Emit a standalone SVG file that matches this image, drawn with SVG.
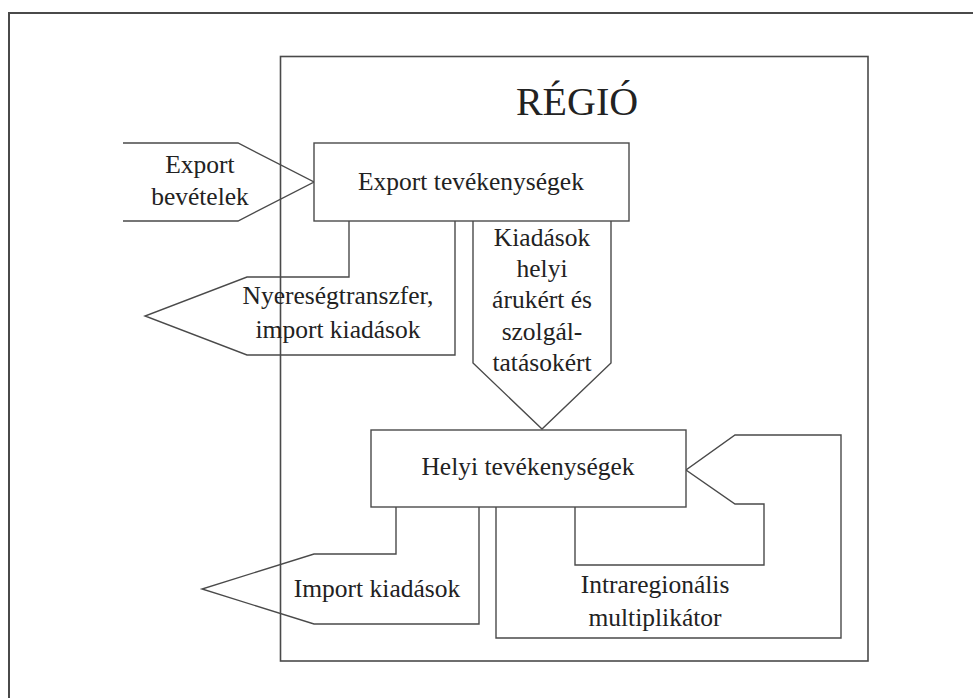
<svg xmlns="http://www.w3.org/2000/svg" width="973" height="698" viewBox="0 0 973 698">
  <style>
    .frame { fill: none; stroke: #4a4a4a; stroke-width: 2; }
    .box { fill: #ffffff; stroke: #4a4a4a; stroke-width: 1.4; }
    .flow { fill: none; stroke: #4a4a4a; stroke-width: 1.4; stroke-linejoin: miter; }
    .lbl { font-family: "Liberation Serif", "DejaVu Serif", serif; font-size: 25.5px; fill: #222222; text-anchor: middle; }
    .title { font-family: "Liberation Serif", "DejaVu Serif", serif; font-size: 40px; fill: #222222; text-anchor: middle; }
  </style>

  <rect x="0" y="0" width="973" height="698" fill="#ffffff"/>
  <!-- outer page frame -->
  <rect class="frame" x="9" y="13" width="1000" height="720"/>

  <!-- region boundary -->
  <g id="regio">
    <rect class="frame" x="280.5" y="56.5" width="587.5" height="604.5" style="stroke-width:1.6"/>
    <text class="title" x="577" y="115">RÉGIÓ</text>
  </g>

  <!-- flows between the activity boxes -->
  <g id="connectors">
    <!-- export revenues entering the region -->
    <g id="export-bevetelek">
      <path class="flow" d="M123,143 H238 L314,182 L238,221 H123"/>
      <text class="lbl" x="200" y="173">Export</text>
      <text class="lbl" x="200" y="205">bevételek</text>
    </g>
    <!-- profit transfer and imports leaving from export activities -->
    <g id="nyereseg">
      <path class="flow" d="M349,221 V277 H247 L145,316 L247,355 H455 V221"/>
      <text class="lbl" x="338" y="304">Nyereségtranszfer,</text>
      <text class="lbl" x="338" y="338">import kiadások</text>
    </g>
    <!-- spending on local goods and services -->
    <g id="kiadasok">
      <path class="flow" d="M473,221 V363 L542,429 L611,363 V221"/>
      <text class="lbl" x="542" y="246">Kiadások</text>
      <text class="lbl" x="542" y="277">helyi</text>
      <text class="lbl" x="542" y="308">árukért és</text>
      <text class="lbl" x="542" y="340">szolgál-</text>
      <text class="lbl" x="542" y="371">tatásokért</text>
    </g>
    <!-- imports leaving from local activities -->
    <g id="import-kiadasok">
      <path class="flow" d="M396,507 V554 H314 L202,589 L314,624 H479 V507"/>
      <text class="lbl" x="377" y="597">Import kiadások</text>
    </g>
    <!-- intraregional multiplier loop -->
    <g id="multiplikator">
      <path class="flow" d="M496,507 V638 H841 V435 H735 L686,470 L735,504 H764 V565 H575 V507"/>
      <text class="lbl" x="655" y="593">Intraregionális</text>
      <text class="lbl" x="655" y="626">multiplikátor</text>
    </g>
  </g>

  <!-- activity boxes -->
  <g id="export-tevekenysegek">
    <rect class="box" x="314" y="143" width="315" height="78"/>
    <text class="lbl" x="471" y="190">Export tevékenységek</text>
  </g>
  <g id="helyi-tevekenysegek">
    <rect class="box" x="371" y="430" width="315" height="77"/>
    <text class="lbl" x="528" y="475">Helyi tevékenységek</text>
  </g>
</svg>
